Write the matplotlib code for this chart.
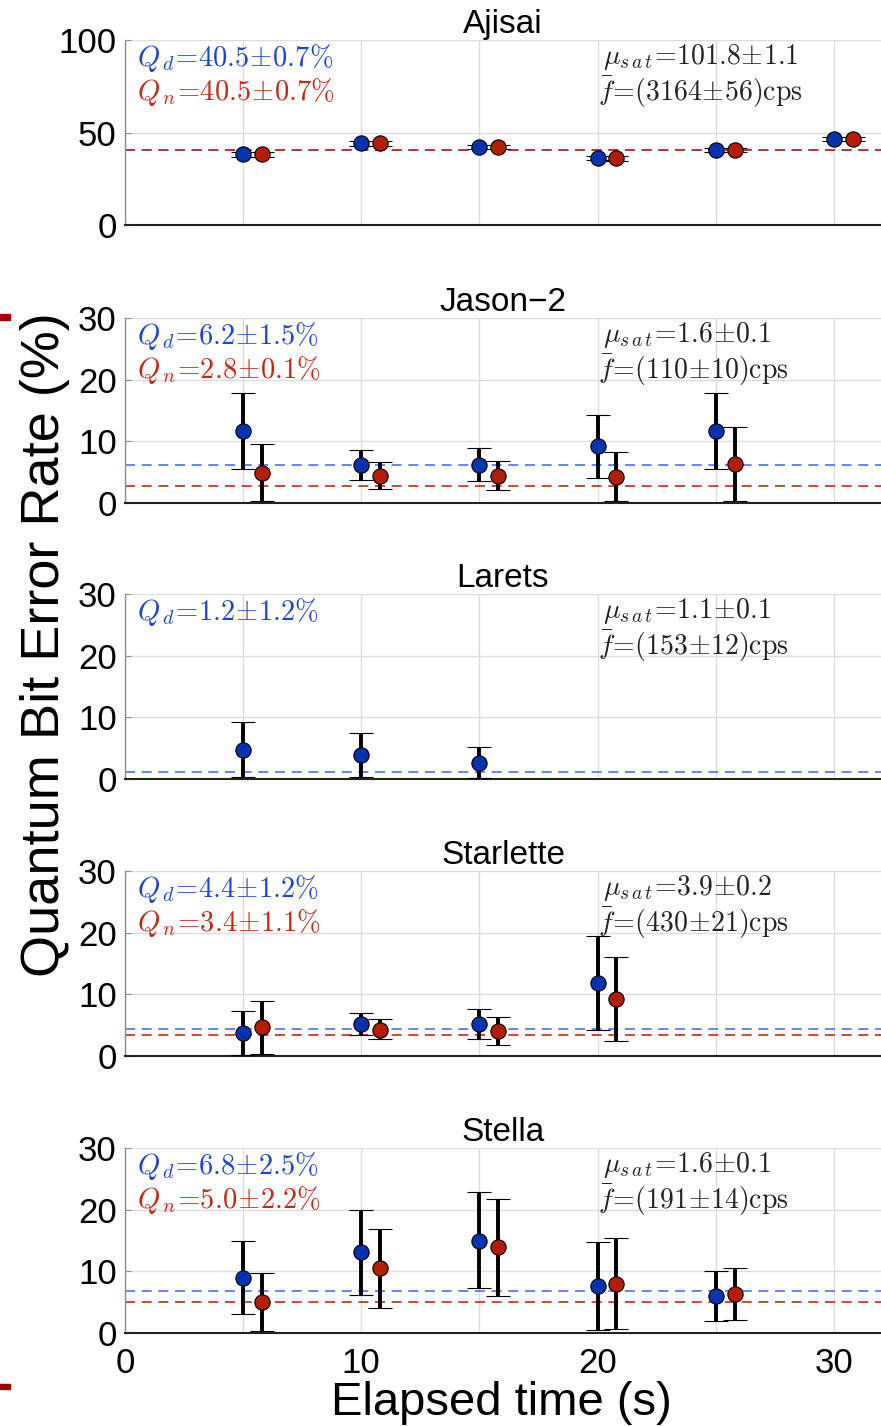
import matplotlib
matplotlib.use("Agg")
import matplotlib.pyplot as plt
from matplotlib.patches import Rectangle
import numpy as np

plt.rcParams['font.family'] = ['Liberation Sans', 'DejaVu Sans']
plt.rcParams['mathtext.fontset'] = 'cm'

# ---- data ----
names = ['Ajisai', 'Jason\u22122', 'Larets', 'Starlette', 'Stella']

ajisai_t_d = [5, 10, 15, 20, 25, 30]
ajisai_t_n = [5.8, 10.8, 15.8, 20.8, 25.8, 30.8]
ajisai_d = [38.2, 44.2, 42.2, 36.2, 40.5, 46.5]
ajisai_d_lo = [36.9, 42.9, 40.9, 34.9, 39.2, 45.2]
ajisai_d_hi = [39.5, 45.5, 43.5, 37.5, 41.8, 47.8]
ajisai_n = [38.2, 44.2, 42.2, 36.0, 40.5, 46.5]
ajisai_n_lo = [36.9, 42.9, 40.9, 34.7, 39.2, 45.2]
ajisai_n_hi = [39.5, 45.5, 43.5, 37.3, 41.8, 47.8]

jason_t_d = [5, 10, 15, 20, 25]
jason_t_n = [5.8, 10.8, 15.8, 20.8, 25.8]
jason_d = [11.6, 6.2, 6.2, 9.2, 11.6]
jason_d_lo = [5.5, 3.8, 3.5, 4.1, 5.5]
jason_d_hi = [17.9, 8.6, 8.9, 14.2, 17.9]
jason_n = [4.9, 4.4, 4.4, 4.2, 6.4]
jason_n_lo = [0.3, 2.2, 2.1, 0.3, 0.4]
jason_n_hi = [9.6, 6.6, 6.8, 8.3, 12.3]

larets_t_d = [5, 10, 15]
larets_d = [4.7, 3.9, 2.6]
larets_d_lo = [0.3, 0.3, 0.2]
larets_d_hi = [9.2, 7.5, 5.2]

starlette_t_d = [5, 10, 15, 20]
starlette_t_n = [5.8, 10.8, 15.8, 20.8]
starlette_d = [3.8, 5.2, 5.2, 11.9]
starlette_d_lo = [0.2, 3.4, 2.7, 4.2]
starlette_d_hi = [7.3, 6.9, 7.7, 19.4]
starlette_n = [4.7, 4.2, 4.0, 9.2]
starlette_n_lo = [0.3, 2.7, 1.8, 2.4]
starlette_n_hi = [9.0, 6.0, 6.3, 16.1]

stella_t_d = [5, 10, 15, 20, 25]
stella_t_n = [5.8, 10.8, 15.8, 20.8, 25.8]
stella_d = [9.0, 13.1, 15.0, 7.6, 6.0]
stella_d_lo = [3.1, 6.1, 7.3, 0.5, 2.0]
stella_d_hi = [15.0, 20.0, 22.9, 14.8, 10.1]
stella_n = [5.0, 10.5, 13.9, 8.0, 6.3]
stella_n_lo = [0.3, 4.0, 6.0, 0.6, 2.1]
stella_n_hi = [9.7, 16.9, 21.8, 15.4, 10.5]

q_d = [40.5, 6.2, 1.2, 4.4, 6.8]
q_d_err = [0.7, 1.5, 1.2, 1.2, 2.5]
q_n = [40.5, 2.8, None, 3.4, 5.0]
q_n_err = [0.7, 0.1, None, 1.1, 2.2]
mu_sat = ['101.8', '1.6', '1.1', '3.9', '1.6']
mu_err = ['1.1', '0.1', '0.1', '0.2', '0.1']
f_rate = ['3164', '110', '153', '430', '191']
f_err = ['56', '10', '12', '21', '14']

series_d = [(ajisai_t_d, ajisai_d, ajisai_d_lo, ajisai_d_hi),
            (jason_t_d, jason_d, jason_d_lo, jason_d_hi),
            (larets_t_d, larets_d, larets_d_lo, larets_d_hi),
            (starlette_t_d, starlette_d, starlette_d_lo, starlette_d_hi),
            (stella_t_d, stella_d, stella_d_lo, stella_d_hi)]
series_n = [(ajisai_t_n, ajisai_n, ajisai_n_lo, ajisai_n_hi),
            (jason_t_n, jason_n, jason_n_lo, jason_n_hi),
            None,
            (starlette_t_n, starlette_n, starlette_n_lo, starlette_n_hi),
            (stella_t_n, stella_n, stella_n_lo, stella_n_hi)]

blue_mk = '#0433b0'
red_mk = '#b31d00'
blue_txt = '#1f44cc'
red_txt = '#c02818'
blue_ln = '#4f73e0'
red_ln = '#c4291a'

W, H = 881, 1426
fig = plt.figure(figsize=(W / 100, H / 100), dpi=100)

tops = [40, 318, 594, 871, 1148]
ax_h = 185
left = 125

def draw(ax, s, color):
    t, v, lo, hi = s
    v = np.array(v)
    yerr = [v - np.array(lo), np.array(hi) - v]
    ax.errorbar(t, v, yerr=yerr, fmt='o', color='black', ecolor='black',
                elinewidth=2.8, capsize=8.5, capthick=2.8,
                markersize=11, markerfacecolor=color, markeredgecolor='black',
                markeredgewidth=0.8, zorder=4)

for i, name in enumerate(names):
    ax = fig.add_axes([left / W, 1 - (tops[i] + ax_h) / H, 1 - left / W, ax_h / H])
    ax.set_xlim(0, 32)
    if i == 0:
        ax.set_ylim(0, 100)
        ax.set_yticks([0, 50, 100])
    else:
        ax.set_ylim(0, 30)
        ax.set_yticks([0, 10, 20, 30])
    ax.set_xticks([0, 5, 10, 15, 20, 25, 30])
    if i == 4:
        ax.set_xticklabels(['0', '', '10', '', '20', '', '30'])
    else:
        ax.set_xticklabels([])
    ax.grid(True, color='#dcdcdc', linewidth=1.0, zorder=0)
    ax.set_axisbelow(True)
    for sp in ['top', 'right']:
        ax.spines[sp].set_visible(False)
    ax.spines['left'].set_color('#8c8c8c')
    ax.spines['left'].set_linewidth(1.0)
    ax.spines['bottom'].set_color('#222222')
    ax.spines['bottom'].set_linewidth(1.5)
    ax.tick_params(axis='both', direction='in', length=4, color='#8c8c8c',
                   labelsize=25, pad=6)
    ax.tick_params(axis='x', length=0, pad=10)

    ax.axhline(q_d[i], color=blue_ln, linestyle=(0, (6, 4)), linewidth=1.2, zorder=2)
    if q_n[i] is not None:
        ax.axhline(q_n[i], color=red_ln, linestyle=(0, (6, 4)), linewidth=1.2, zorder=2)

    draw(ax, series_d[i], blue_mk)
    if series_n[i] is not None:
        draw(ax, series_n[i], red_mk)

    ax.set_title(name, fontsize=24, pad=1)

    ax.text(0.016, 0.905, r'$Q_{\,d}\!=\!%.1f\!\pm\!%.1f\%%$' % (q_d[i], q_d_err[i]),
            transform=ax.transAxes, color=blue_txt, fontsize=20.5, va='center', ha='left')
    if q_n[i] is not None:
        ax.text(0.016, 0.72, r'$Q_{\,n}\!=\!%.1f\!\pm\!%.1f\%%$' % (q_n[i], q_n_err[i]),
                transform=ax.transAxes, color=red_txt, fontsize=20.5, va='center', ha='left')
    ax.text(0.632, 0.91, r'$\mu_{s\,a\,t}\!=\!%s\!\pm\!%s$' % (mu_sat[i], mu_err[i]),
            transform=ax.transAxes, color='#222222', fontsize=20, va='center', ha='left')
    ax.text(0.625, 0.72, r'$\bar{f}\!=\!(%s\!\pm\!%s)\mathrm{cps}$' % (f_rate[i], f_err[i]),
            transform=ax.transAxes, color='#222222', fontsize=20, va='center', ha='left')

fig.text(45 / W, 1 - 645 / H, 'Quantum Bit Error Rate (%)', rotation=90,
         fontsize=39, ha='center', va='center')
fig.text(501 / W, 1 - 1403 / H, 'Elapsed time (s)', fontsize=34,
         ha='center', va='center')

# small marks at the left border
fig.add_artist(Rectangle((0, 1 - 320 / H), 10 / W, 6 / H, transform=fig.transFigure,
                         color='#a00000'))
fig.add_artist(Rectangle((0, 1 - 1389 / H), 10 / W, 5 / H, transform=fig.transFigure,
                         color='#a00000'))

fig.savefig('out.png', dpi=100)
